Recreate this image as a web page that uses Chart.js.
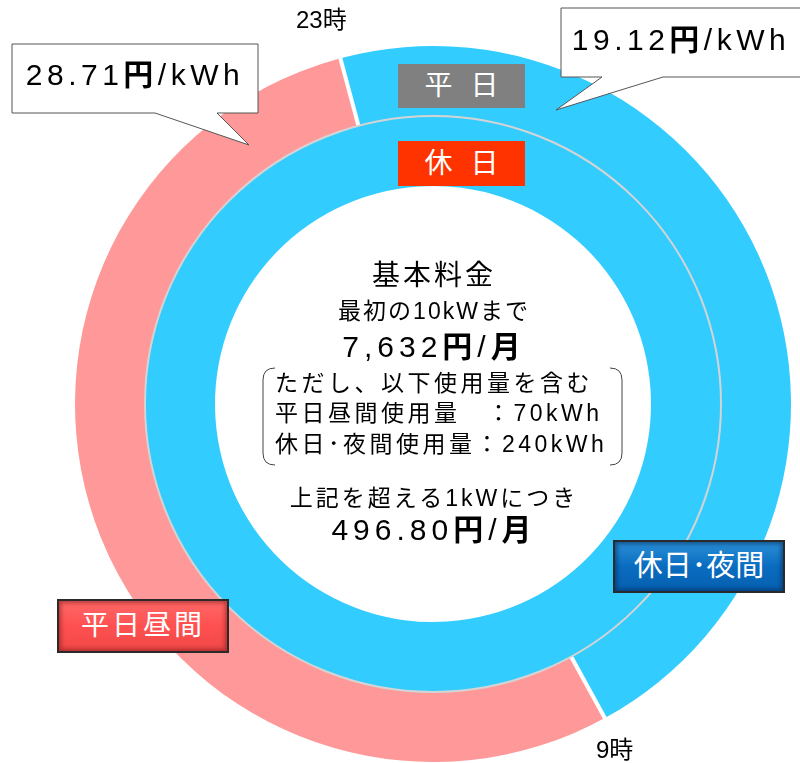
<!DOCTYPE html>
<html>
<head>
<meta charset="utf-8">
<script src="https://cdn.jsdelivr.net/npm/chart.js@4/dist/chart.umd.min.js"></script>
<style>
  html, body { margin: 0; padding: 0; background: #fff; overflow: hidden; }
  body { width: 800px; height: 763px; position: relative;
         font-family: "Liberation Sans", "Noto Sans CJK JP", sans-serif; color: #000; }
  #wrap { position: absolute; left: 0; top: 0; width: 800px; height: 763px; }
  .t { position: absolute; white-space: nowrap; }
  .c { position: absolute; left: 234px; width: 400px; text-align: center; white-space: nowrap; }
  .l { position: absolute; left: 275px; white-space: nowrap; }
  svg { position: absolute; left: 0; top: 0; }
  .tag { position: absolute; color: #fff; text-align: center; white-space: nowrap; }
  .btn { position: absolute; color: #fff; text-align: center; white-space: nowrap; box-sizing: border-box;
         border: 2px solid #2a2a2a; }
</style>
</head>
<body>
<div id="wrap"><canvas id="donut" width="800" height="763"></canvas></div>

<svg width="800" height="763">
  <!-- 吹き出し -->
  <path d="M12,44 H258 V113 H217 L249,145 L155,113 H12 Z" fill="#fff" stroke="#555" stroke-width="1"/>
  <path d="M561,8 H805 V77 H663 L556,110 L602,77 H561 Z" fill="#fff" stroke="#555" stroke-width="1"/>
  <!-- かっこ -->
  <path d="M275,368 Q263,368 263,380 V453 Q263,465 275,465" fill="none" stroke="#444" stroke-width="1"/>
  <path d="M610,368 Q622,368 622,380 V453 Q622,465 610,465" fill="none" stroke="#444" stroke-width="1"/>
</svg>

<div class="t" style="left:296px;top:5px;font-size:24px;line-height:30px;">23時</div>
<div class="t" style="left:596px;top:735px;font-size:24px;line-height:30px;">9時</div>

<div class="t" style="left:12px;top:58px;width:246px;text-align:center;font-size:30px;line-height:34px;letter-spacing:4.5px;">28.71<b>円</b>/kWh</div>
<div class="t" style="left:561px;top:23px;width:240px;text-align:center;font-size:30px;line-height:34px;letter-spacing:4.5px;">19.12<b>円</b>/kWh</div>

<div class="tag" style="left:398px;top:64px;width:127px;height:44px;background:#808080;font-size:28px;line-height:44px;letter-spacing:5px;padding-left:5px;box-sizing:border-box;">平 日</div>
<div class="tag" style="left:398px;top:141px;width:127px;height:45px;background:#FF3300;font-size:28px;line-height:45px;letter-spacing:5px;padding-left:5px;box-sizing:border-box;">休 日</div>

<div class="c" style="top:258px;font-size:28px;line-height:36px;letter-spacing:3px;">基本料金</div>
<div class="c" style="top:296px;font-size:23px;line-height:30px;letter-spacing:2px;">最初の10kWまで</div>
<div class="c" style="top:329px;font-size:30px;line-height:36px;letter-spacing:5px;">7,632<b>円</b>/<b>月</b></div>
<div class="l" style="top:368px;font-size:23px;line-height:30px;letter-spacing:3.5px;">ただし、以下使用量を含む</div>
<div class="l" style="top:398px;font-size:23px;line-height:30px;letter-spacing:3.5px;">平日昼間使用量　：70kWh</div>
<div class="l" style="top:429px;font-size:23px;line-height:30px;letter-spacing:3.5px;">休日･夜間使用量：240kWh</div>
<div class="c" style="top:483px;font-size:23px;line-height:30px;letter-spacing:3px;">上記を超える1kWにつき</div>
<div class="c" style="top:512px;font-size:30px;line-height:36px;letter-spacing:5px;">496.80<b>円</b>/<b>月</b></div>

<div class="btn" style="left:613px;top:540px;width:172px;height:53px;font-size:29px;line-height:49px;
  background:linear-gradient(#2a8fd6,#0a6cc0 50%,#0660b0);box-shadow:inset 0 0 4px 2px rgba(0,40,90,0.6);">休日･夜間</div>
<div class="btn" style="left:57px;top:599px;width:172px;height:54px;font-size:28px;line-height:50px;letter-spacing:3px;
  background:linear-gradient(#ff6868,#ff5050 50%,#f04848);box-shadow:inset 0 0 4px 2px rgba(120,20,20,0.55);">平日昼間</div>

<script>
// 外側：平日（休日・夜間 / 平日昼間）、内側：休日（全日）
var ringLabels = ['休日・夜間', '平日昼間'];
var weekdayShares = [46.2, 53.8];   // 23時〜9時 / 9時〜23時
var holidayShares = [100];
var ringColors = ['#33CCFF', '#FF9999'];

// 境目の白線と内外の灰色線
var ringLines = {
    id: 'ringLines',
    afterDatasetsDraw: function(chart) {
        var ctx = chart.ctx;
        ctx.save();
        chart.getDatasetMeta(0).data.forEach(function(arc) {
            var a = arc.startAngle;
            ctx.beginPath();
            ctx.moveTo(arc.x + Math.cos(a) * arc.innerRadius, arc.y + Math.sin(a) * arc.innerRadius);
            ctx.lineTo(arc.x + Math.cos(a) * (arc.outerRadius + 2), arc.y + Math.sin(a) * (arc.outerRadius + 2));
            ctx.strokeStyle = '#fff';
            ctx.lineWidth = 4;
            ctx.stroke();
        });
        var inner = chart.getDatasetMeta(1).data[0];
        ctx.beginPath();
        ctx.arc(inner.x, inner.y, inner.outerRadius, 0, Math.PI * 2);
        ctx.strokeStyle = '#d4d4d4';
        ctx.lineWidth = 2;
        ctx.stroke();
        ctx.restore();
    }
};

var ctx = document.getElementById('donut').getContext('2d');
var donut = new Chart(ctx, {
    type: 'doughnut',
    data: {
        labels: ringLabels,
        datasets: [{
            label: '平日',
            data: weekdayShares,
            backgroundColor: ringColors,
            borderWidth: 0
        }, {
            label: '休日',
            data: holidayShares,
            backgroundColor: [ringColors[0]],
            borderWidth: 0
        }]
    },
    options: {
        responsive: false,
        animation: false,
        rotation: -15,
        cutout: 218,
        layout: {
            padding: { top: 45, bottom: 0, left: 75, right: 9 }
        },
        plugins: {
            legend: { display: false },
            tooltip: { enabled: false }
        }
    },
    plugins: [ringLines]
});
</script>
</body>
</html>
